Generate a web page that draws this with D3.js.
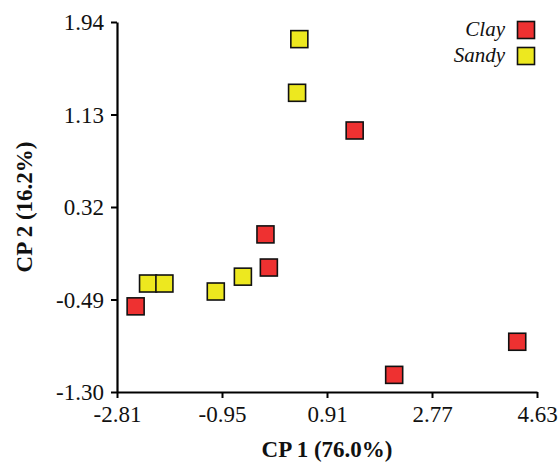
<!DOCTYPE html>
<html>
<head>
<meta charset="utf-8">
<script src="https://cdn.jsdelivr.net/npm/d3@7"></script>
<style>
    body { margin: 0; background: #fff; }
    svg { display: block; }
    .tick-label { font-family: "Liberation Serif", serif; font-size: 23px; fill: #111; }
    .axis-title { font-family: "Liberation Serif", serif; font-size: 23px; font-weight: bold; fill: #111; }
    .legend-label { font-family: "Liberation Serif", serif; font-size: 21px; font-style: italic; fill: #111; }
</style>
</head>
<body>
<div id="chart"></div>
<script>
(function() {
    'use strict';

    // series
    var groups = ['Clay', 'Sandy'];
    var colors = ['#ee3131', '#ede81f'];

    var clayX = [-2.48, -0.12, -0.18, 1.40, 2.10, 4.28];
    var clayY = [-0.55, -0.21, 0.08, 0.99, -1.15, -0.86];

    var sandyX = [-2.26, -1.97, -1.06, -0.58, 0.42, 0.38];
    var sandyY = [-0.35, -0.35, -0.42, -0.29, 1.79, 1.32];

    // tick labels
    var xTicks = [-2.81, -0.95, 0.91, 2.77, 4.63];
    var yTicks = [-1.30, -0.49, 0.32, 1.13, 1.94];

    var width = 558, height = 462;
    var margin = {left: 117, right: 21, top: 22, bottom: 70};

    var svg = d3.select('#chart').append('svg')
        .attr('width', width)
        .attr('height', height);

    var x = d3.scaleLinear()
        .domain([xTicks[0], xTicks[xTicks.length - 1]])
        .range([margin.left, width - margin.right]);

    var y = d3.scaleLinear()
        .domain([yTicks[0], yTicks[yTicks.length - 1]])
        .range([height - margin.bottom, margin.top]);

    // axes
    var xAxis = svg.append('g')
        .attr('transform', 'translate(0,' + (height - margin.bottom) + ')')
        .call(d3.axisBottom(x).tickValues(xTicks).tickFormat(d3.format('.2f')).tickSize(6).tickSizeOuter(0));

    var yAxis = svg.append('g')
        .attr('transform', 'translate(' + margin.left + ',0)')
        .call(d3.axisLeft(y).tickValues(yTicks).tickFormat(d3.format('.2f')).tickSize(6).tickSizeOuter(0));

    [xAxis, yAxis].forEach(function(ax) {
        ax.select('.domain').attr('stroke', '#000').attr('stroke-width', 2.2);
        ax.selectAll('.tick line').attr('stroke', '#000').attr('stroke-width', 2);
        ax.selectAll('.tick text')
            .attr('class', 'tick-label')
            .attr('font-family', null)
            .attr('font-size', null)
            .attr('fill', null);
    });
    // d3 uses a unicode minus; the reference uses a hyphen
    svg.selectAll('.tick-label').text(function(d) { return d3.format('.2f')(d).replace('\u2212', '-'); });
    xAxis.selectAll('.tick text').attr('dy', '1.0em').attr('y', 7);
    yAxis.selectAll('.tick text').attr('x', -13).attr('dy', '0.34em');

    // axis titles
    svg.append('text')
        .attr('class', 'axis-title')
        .attr('x', (margin.left + width - margin.right) / 2)
        .attr('y', 457)
        .attr('text-anchor', 'middle')
        .text('CP 1 (76.0%)');

    svg.append('text')
        .attr('class', 'axis-title')
        .attr('transform', 'translate(32,' + ((margin.top + height - margin.bottom) / 2) + ') rotate(-90)')
        .attr('text-anchor', 'middle')
        .text('CP 2 (16.2%)');

    // points
    var size = 17;
    var series = [
        {name: groups[0], color: colors[0], xs: clayX, ys: clayY},
        {name: groups[1], color: colors[1], xs: sandyX, ys: sandyY}
    ];

    series.forEach(function(s) {
        svg.append('g').selectAll('rect')
            .data(s.xs.map(function(v, i) { return [v, s.ys[i]]; }))
            .enter()
            .append('rect')
            .attr('x', function(d) { return x(d[0]) - size / 2; })
            .attr('y', function(d) { return y(d[1]) - size / 2; })
            .attr('width', size)
            .attr('height', size)
            .attr('fill', s.color)
            .attr('stroke', '#111')
            .attr('stroke-width', 1.6);
    });

    // legend
    var legend = svg.append('g').attr('transform', 'translate(526,30)');
    groups.forEach(function(g, i) {
        var row = legend.append('g').attr('transform', 'translate(0,' + (i * 26) + ')');
        row.append('rect')
            .attr('x', -size / 2)
            .attr('y', -size / 2)
            .attr('width', size)
            .attr('height', size)
            .attr('fill', colors[i])
            .attr('stroke', '#111')
            .attr('stroke-width', 1.6);
        row.append('text')
            .attr('class', 'legend-label')
            .attr('x', -21)
            .attr('y', 6)
            .attr('text-anchor', 'end')
            .text(g);
    });
})();
</script>
</body>
</html>
